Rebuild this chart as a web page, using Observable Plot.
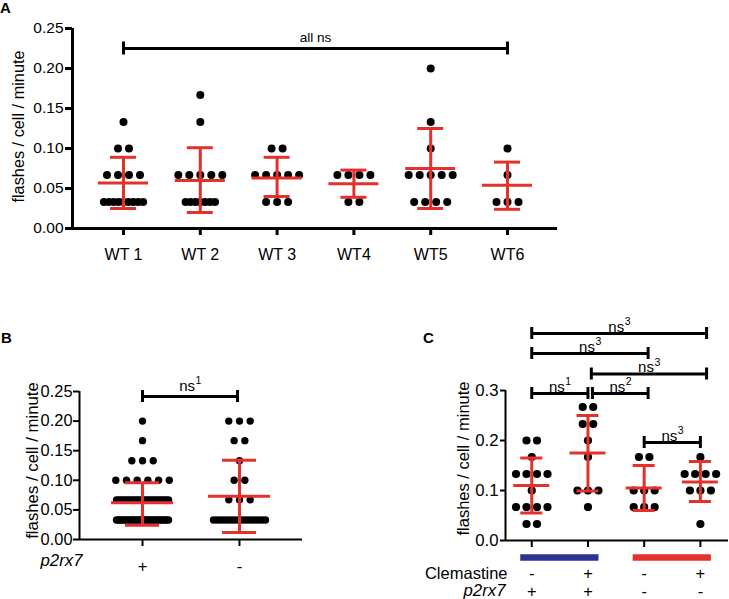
<!DOCTYPE html>
<html>
<head>
<meta charset="utf-8">
<script src="https://cdn.jsdelivr.net/npm/d3@7"></script>
<script src="https://cdn.jsdelivr.net/npm/@observablehq/plot@0.6"></script>
<style>
  html, body { margin: 0; padding: 0; background: #fff; }
  #page { position: relative; width: 729px; height: 599px; overflow: hidden; background: #fff;
          font-family: "Liberation Sans", Arial, Helvetica, sans-serif; }
  .panel { position: absolute; }
  .letter { position: absolute; font-weight: bold; font-size: 15px; line-height: 15px; color: #000; }
  svg { overflow: visible; }
</style>
</head>
<body>
<div id="page">
  <div class="panel" id="pA" style="left:0px;top:0px"></div>
  <div class="panel" id="pB" style="left:0px;top:300px"></div>
  <div class="panel" id="pC" style="left:380px;top:300px"></div>
  <div class="letter" style="left:0px;top:0px">A</div>
  <div class="letter" style="left:1px;top:330px">B</div>
  <div class="letter" style="left:423px;top:330px">C</div>
</div>
<script>
// ---------------- DATA ----------------
const yLabel = "flashes / cell / minute";

// Panel A
const groupsA = ["WT 1", "WT 2", "WT 3", "WT4", "WT5", "WT6"];
const wt1 = [0.133, 0.1, 0.1, 0.067, 0.067, 0.067, 0.067, 0.033, 0.033, 0.033, 0.033, 0.033, 0.033, 0.033, 0.033, 0.033];
const wt2 = [0.167, 0.133, 0.067, 0.067, 0.067, 0.067, 0.067, 0.033, 0.033, 0.033, 0.033, 0.033, 0.033, 0.033];
const wt3 = [0.1, 0.1, 0.067, 0.067, 0.067, 0.067, 0.067, 0.033, 0.033, 0.033];
const wt4 = [0.067, 0.067, 0.067, 0.067, 0.033, 0.033];
const wt5 = [0.2, 0.133, 0.1, 0.067, 0.067, 0.067, 0.067, 0.067, 0.033, 0.033, 0.033, 0.033];
const wt6 = [0.1, 0.067, 0.033, 0.033, 0.033];
const meanA = [0.057, 0.060, 0.063, 0.056, 0.075, 0.054];
const sdLoA = [0.025, 0.020, 0.040, 0.039, 0.025, 0.024];
const sdHiA = [0.089, 0.101, 0.089, 0.073, 0.125, 0.083];
const yTicksA = [0, 0.05, 0.1, 0.15, 0.2, 0.25];
const bracketA = [{from: 1, to: 6, label: "all ns"}];

// Panel B
const groupsB = ["+", "-"];
const p2rx7Plus = [0.2, 0.167, 0.133, 0.133, 0.133, 0.1, 0.1, 0.1, 0.1, 0.1, 0.1,
  0.067, 0.067, 0.067, 0.067, 0.067, 0.067, 0.067, 0.067, 0.067, 0.067, 0.067, 0.067,
  0.067, 0.067, 0.067, 0.067, 0.067, 0.067, 0.067, 0.067, 0.067, 0.067, 0.067, 0.067,
  0.033, 0.033, 0.033, 0.033, 0.033, 0.033, 0.033, 0.033, 0.033, 0.033, 0.033, 0.033, 0.033, 0.033,
  0.033, 0.033, 0.033, 0.033, 0.033, 0.033, 0.033, 0.033, 0.033, 0.033, 0.033, 0.033, 0.033, 0.033];
const p2rx7Minus = [0.2, 0.2, 0.2, 0.167, 0.167, 0.133, 0.1, 0.1, 0.067, 0.067, 0.067,
  0.033, 0.033, 0.033, 0.033, 0.033, 0.033, 0.033, 0.033, 0.033, 0.033, 0.033, 0.033, 0.033, 0.033, 0.033, 0.033];
const meanB = [0.062, 0.073];
const sdLoB = [0.024, 0.012];
const sdHiB = [0.096, 0.134];
const yTicksB = [0, 0.05, 0.1, 0.15, 0.2, 0.25];
const bracketB = [{from: 1, to: 1.98, label: "ns", sup: "1"}];

// Panel C
const clemastineC = ["-", "+", "-", "+"];
const p2rx7C = ["+", "+", "-", "-"];
const c1 = [0.2, 0.2, 0.167, 0.133, 0.133, 0.133, 0.133, 0.1, 0.067, 0.067, 0.067, 0.067, 0.033, 0.033];
const c2 = [0.267, 0.267, 0.233, 0.233, 0.2, 0.167, 0.1, 0.1, 0.1, 0.067];
const c3 = [0.167, 0.167, 0.1, 0.1, 0.1, 0.067, 0.067, 0.067];
const c4 = [0.167, 0.133, 0.133, 0.133, 0.133, 0.1, 0.1, 0.1, 0.033];
const meanC = [0.110, 0.175, 0.105, 0.117];
const sdLoC = [0.055, 0.099, 0.060, 0.078];
const sdHiC = [0.165, 0.250, 0.150, 0.158];
const yTicksC = [0, 0.1, 0.2, 0.3];
const bracketsC = [
  {from: 1, to: 4.11, level: 0.414, label: "ns", sup: "3"},
  {from: 1, to: 3.07, level: 0.374, label: "ns", sup: "3"},
  {from: 2.06, to: 4.11, level: 0.333, label: "ns", sup: "3"},
  {from: 1, to: 2.0, level: 0.294, label: "ns", sup: "1"},
  {from: 2.08, to: 3.07, level: 0.294, label: "ns", sup: "2"},
  {from: 3, to: 4, level: 0.196, label: "ns", sup: "3"}
];
const genotypeBars = [{from: 1, to: 2, color: "#2e3192"}, {from: 3, to: 4, color: "#e5312c"}];

// ---------------- HELPERS ----------------
const FONT = '"Liberation Sans", Arial, Helvetica, sans-serif';
const RED = "#e5312c";

function layoutDots(groups, pxPerX, opt) {
  const out = [];
  groups.forEach((vals, gi) => {
    const rows = d3.group(vals, v => v);
    for (const [v, arr] of rows) {
      const n = arr.length;
      let sp = n <= opt.sparseMax ? opt.spacing : Math.min(opt.dense, 2 * opt.maxHalf / (n - 1));
      arr.forEach((_, k) => out.push({x: gi + 1 + (k - (n - 1) / 2) * sp / pxPerX, y: v}));
    }
  });
  return out;
}

function errorMarks(mean, lo, hi, pxPerX, meanHalfPx, capHalfPx, sw) {
  const idx = mean.map((_, i) => i);
  const mh = meanHalfPx / pxPerX, ch = capHalfPx / pxPerX;
  return [
    Plot.ruleX(idx, {x: i => i + 1, y1: i => lo[i], y2: i => hi[i], stroke: RED, strokeWidth: sw}),
    Plot.ruleY(idx, {y: i => mean[i], x1: i => i + 1 - mh, x2: i => i + 1 + mh, stroke: RED, strokeWidth: sw}),
    Plot.ruleY(idx, {y: i => lo[i], x1: i => i + 1 - ch, x2: i => i + 1 + ch, stroke: RED, strokeWidth: sw}),
    Plot.ruleY(idx, {y: i => hi[i], x1: i => i + 1 - ch, x2: i => i + 1 + ch, stroke: RED, strokeWidth: sw})
  ];
}

// bracket with "ns" + raised superscript digit
function bracketMarks(br, pxPerY, endHalfPx, sw, fontSize, labelDy) {
  const e = endHalfPx / pxPerY;
  const nsW = fontSize * 1.056, supW = fontSize * 0.7 * 0.556;
  const shift = (nsW + supW) / 2 - supW; // where "ns" ends relative to centre
  return [
    Plot.ruleY(br, {y: d => d.level, x1: "from", x2: "to", stroke: "black", strokeWidth: sw}),
    Plot.ruleX(br, {x: "from", y1: d => d.level - e, y2: d => d.level + e, stroke: "black", strokeWidth: sw}),
    Plot.ruleX(br, {x: "to", y1: d => d.level - e, y2: d => d.level + e, stroke: "black", strokeWidth: sw}),
    Plot.text(br, {x: d => (d.from + d.to) / 2, y: d => d.level, text: "label", dy: labelDy, dx: shift,
      textAnchor: "end", fontSize, fill: "black", lineAnchor: "bottom"}),
    Plot.text(br, {x: d => (d.from + d.to) / 2, y: d => d.level, text: "sup", dy: labelDy - fontSize * 0.42, dx: shift + 0.5,
      textAnchor: "start", fontSize: fontSize * 0.7, fill: "black", lineAnchor: "bottom"})
  ];
}

function yTitle(dx, dy, fs) {
  return Plot.text([yLabel], {frameAnchor: "left", text: d => d, rotate: -90, textAnchor: "middle",
    lineAnchor: "middle", dx, dy, fontSize: fs});
}

// ---------------- PANEL A ----------------
{
  const W = 580, H = 270, mL = 72, mR = 23, mT = 28, mB = 42;
  const xDom = [0.336, 6.651], yDom = [0, 0.25];
  const pxPerX = (W - mL - mR) / (xDom[1] - xDom[0]);
  const pxPerY = (H - mT - mB) / (yDom[1] - yDom[0]);
  const pts = layoutDots([wt1, wt2, wt3, wt4, wt5, wt6], pxPerX, {sparseMax: 5, spacing: 11, dense: 4.9, maxHalf: 25});
  const br = bracketA.map(d => ({...d, level: 0.225}));
  const plot = Plot.plot({
    width: W, height: H, marginLeft: mL, marginRight: mR, marginTop: mT, marginBottom: mB,
    x: {domain: xDom, axis: null}, y: {domain: yDom, axis: null},
    style: {fontFamily: FONT, fontSize: "16px", color: "black", background: "transparent", overflow: "visible"},
    marks: [
      Plot.axisY({ticks: yTicksA, tickFormat: d3.format(".2f"), tickSize: 7, tickPadding: 2, strokeWidth: 3, fontSize: 15.5, label: null}),
      Plot.axisX({ticks: groupsA.map((_, i) => i + 1), tickFormat: d => groupsA[d - 1], tickSize: 7, tickPadding: 13, strokeWidth: 3, fontSize: 16, label: null}),
      Plot.ruleX([xDom[0]], {y1: yDom[0], y2: yDom[1], strokeWidth: 3}),
      Plot.ruleY([0], {x1: xDom[0], x2: xDom[1], strokeWidth: 3}),
      yTitle(-54, -2, 16.3),
      Plot.dot(pts, {x: "x", y: "y", r: 4, fill: "black", stroke: "none"}),
      ...errorMarks(meanA, sdLoA, sdHiA, pxPerX, 25, 13, 3),
      Plot.ruleY(br, {y: "level", x1: "from", x2: "to", stroke: "black", strokeWidth: 3}),
      Plot.ruleX(br, {x: "from", y1: d => d.level - 6.5 / pxPerY, y2: d => d.level + 6.5 / pxPerY, strokeWidth: 3}),
      Plot.ruleX(br, {x: "to", y1: d => d.level - 6.5 / pxPerY, y2: d => d.level + 6.5 / pxPerY, strokeWidth: 3}),
      Plot.text(br, {x: d => (d.from + d.to) / 2, y: "level", text: "label", dy: -7, lineAnchor: "bottom", fontSize: 13.6})
    ]
  });
  document.getElementById("pA").appendChild(plot);
}

// ---------------- PANEL B ----------------
{
  const W = 320, H = 299, mL = 79, mR = 18, mT = 91, mB = 60;
  const xDom = [0.35, 2.65], yDom = [0, 0.25];
  const pxPerX = (W - mL - mR) / (xDom[1] - xDom[0]);
  const pxPerY = (H - mT - mB) / (yDom[1] - yDom[0]);
  const pts = layoutDots([p2rx7Plus, p2rx7Minus], pxPerX, {sparseMax: 6, spacing: 10.7, dense: 4.9, maxHalf: 26});
  const br = bracketB.map(d => ({...d, level: 0.2415}));
  const plot = Plot.plot({
    width: W, height: H, marginLeft: mL, marginRight: mR, marginTop: mT, marginBottom: mB,
    x: {domain: xDom, axis: null}, y: {domain: yDom, axis: null},
    style: {fontFamily: FONT, fontSize: "16px", color: "black", background: "transparent", overflow: "visible"},
    marks: [
      Plot.axisY({ticks: yTicksB, tickFormat: d3.format(".2f"), tickSize: 6, tickPadding: 1, strokeWidth: 2, fontSize: 16.4, label: null}),
      Plot.axisX({ticks: [1, 2], tickFormat: d => groupsB[d - 1], tickSize: 7, tickPadding: 14, strokeWidth: 2, fontSize: 16.5, label: null}),
      Plot.ruleX([xDom[0]], {y1: yDom[0], y2: yDom[1], strokeWidth: 2}),
      Plot.ruleY([0], {x1: xDom[0], x2: xDom[1], strokeWidth: 2}),
      yTitle(-47, -5, 16.8),
      Plot.text(["p2rx7"], {frameAnchor: "bottom-left", text: d => d, dx: 3, dy: 26, textAnchor: "end", fontStyle: "italic", fontSize: 16.8}),
      Plot.dot(pts, {x: "x", y: "y", r: 3.7, fill: "black", stroke: "none"}),
      ...errorMarks(meanB, sdLoB, sdHiB, pxPerX, 31, 17, 3),
      ...bracketMarks(br, pxPerY, 6, 3, 15, -6)
    ]
  });
  document.getElementById("pB").appendChild(plot);
}

// ---------------- PANEL C ----------------
{
  const W = 349, H = 299, mL = 125, mR = 1, mT = 90, mB = 59;
  const xDom = [0.533, 4.5], yDom = [0, 0.3];
  const pxPerX = (W - mL - mR) / (xDom[1] - xDom[0]);
  const pxPerY = (H - mT - mB) / (yDom[1] - yDom[0]);
  const pts = layoutDots([c1, c2, c3, c4], pxPerX, {sparseMax: 6, spacing: 10.5, dense: 5, maxHalf: 20});
  const bars = genotypeBars.map(d => ({...d, x1: d.from - 11 / pxPerX, x2: d.to + 11 / pxPerX}));
  const idx = clemastineC.map((_, i) => i);
  const plot = Plot.plot({
    width: W, height: H, marginLeft: mL, marginRight: mR, marginTop: mT, marginBottom: mB,
    x: {domain: xDom, axis: null}, y: {domain: yDom, axis: null},
    style: {fontFamily: FONT, fontSize: "16px", color: "black", background: "transparent", overflow: "visible"},
    marks: [
      Plot.axisY({ticks: yTicksC, tickFormat: d3.format(".1f"), tickSize: 5, tickPadding: 2, strokeWidth: 2, fontSize: 16.8, label: null}),
      Plot.axisX({ticks: [1, 2, 3, 4], tickFormat: () => "", tickSize: 7, strokeWidth: 2, label: null}),
      Plot.ruleX([xDom[0]], {y1: yDom[0], y2: yDom[1], strokeWidth: 2}),
      Plot.ruleY([0], {x1: xDom[0], x2: xDom[1], strokeWidth: 2}),
      yTitle(-42, -7, 16.5),
      Plot.ruleY(bars, {y: 0, x1: "x1", x2: "x2", stroke: "color", strokeWidth: 6.5, dy: 17}),
      Plot.text(idx, {x: i => i + 1, y: 0, text: i => clemastineC[i], dy: 33, fontSize: 16.5}),
      Plot.text(idx, {x: i => i + 1, y: 0, text: i => p2rx7C[i], dy: 51, fontSize: 16.5}),
      Plot.text(["Clemastine"], {x: xDom[0], y: 0, text: d => d, textAnchor: "end", dx: 2, dy: 33, fontSize: 16.5}),
      Plot.text(["p2rx7"], {x: xDom[0], y: 0, text: d => d, textAnchor: "end", dx: 0, dy: 50, fontSize: 16.8, fontStyle: "italic"}),
      Plot.dot(pts, {x: "x", y: "y", r: 4.1, fill: "black", stroke: "none"}),
      ...errorMarks(meanC, sdLoC, sdHiC, pxPerX, 18, 11, 3),
      ...bracketMarks(bracketsC, pxPerY, 6, 3, 15, -2)
    ]
  });
  document.getElementById("pC").appendChild(plot);
}
</script>
</body>
</html>
